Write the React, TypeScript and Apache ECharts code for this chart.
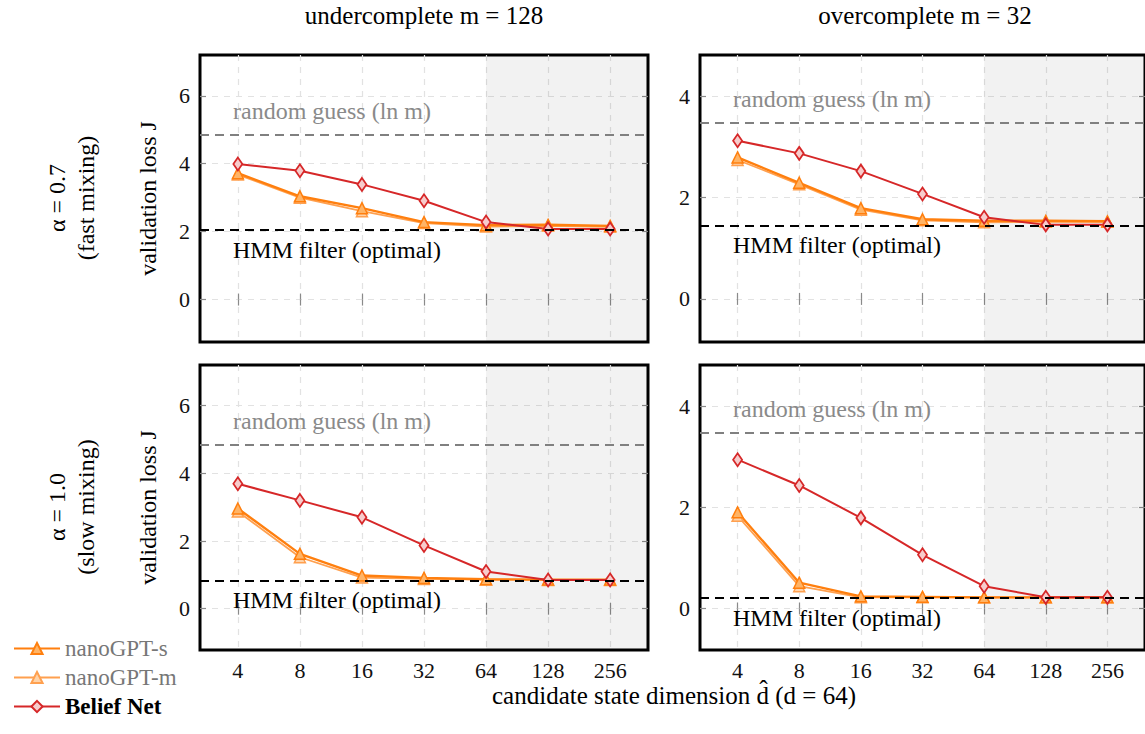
import React, { useEffect, useRef } from 'react';
import * as echarts from 'echarts';

// ---------- data ----------
const D_VALUES = [4, 8, 16, 32, 64, 128, 256];
const X_TICK_LABELS = ['4', '8', '16', '32', '64', '128', '256'];
const Y_TICKS_UNDER = [0, 2, 4, 6];
const Y_TICKS_OVER = [0, 2, 4];
const SHADE_FROM_D = 64;

// undercomplete m = 128, alpha = 0.7
const UF_NANO_S = [3.72, 3.04, 2.69, 2.28, 2.19, 2.2, 2.17];
const UF_NANO_M = [3.68, 3.0, 2.6, 2.25, 2.15, 2.17, 2.14];
const UF_BELIEF = [3.99, 3.79, 3.39, 2.91, 2.28, 2.08, 2.08];
// overcomplete m = 32, alpha = 0.7
const OF_NANO_S = [2.79, 2.29, 1.79, 1.57, 1.54, 1.54, 1.53];
const OF_NANO_M = [2.74, 2.26, 1.76, 1.55, 1.51, 1.52, 1.52];
const OF_BELIEF = [3.12, 2.87, 2.52, 2.07, 1.61, 1.46, 1.46];
// undercomplete m = 128, alpha = 1.0
const US_NANO_S = [2.96, 1.62, 0.98, 0.91, 0.87, 0.86, 0.86];
const US_NANO_M = [2.87, 1.52, 0.92, 0.88, 0.86, 0.85, 0.85];
const US_BELIEF = [3.69, 3.2, 2.7, 1.87, 1.1, 0.85, 0.85];
// overcomplete m = 32, alpha = 1.0
const OS_NANO_S = [1.9, 0.51, 0.24, 0.23, 0.22, 0.22, 0.22];
const OS_NANO_M = [1.83, 0.44, 0.22, 0.22, 0.22, 0.22, 0.22];
const OS_BELIEF = [2.94, 2.43, 1.79, 1.06, 0.44, 0.22, 0.22];

const HMM_OPTIMAL = [2.05, 1.45, 0.84, 0.21];
const RANDOM_GUESS = [4.852, 3.466, 4.852, 3.466]; // ln 128, ln 32

const COL_TITLES = ['undercomplete m = 128', 'overcomplete m = 32'];
const ROW_TITLES = ['α = 0.7\n(fast mixing)', 'α = 1.0\n(slow mixing)'];
const X_TITLE = 'candidate state dimension d̂ (d = 64)';
const Y_TITLE = 'validation loss J';

// ---------- styles ----------
const FONT = '"Liberation Serif", "Times New Roman", serif';
const FS = 24;
const TITLE_FS = 25;
const TICK_FS = 22;
const XMIN = 1.39;
const XMAX = 8.61;
const LX = D_VALUES.map((d) => Math.log2(d));

const C_S = '#ff7f0e';
const C_M = '#ffa04f';
const C_B = '#d62728';

function buildOption() {
  const layouts = [
    { left: 200, top: 55, width: 448, height: 287, ymin: -1.25, ymax: 7.2, yticks: Y_TICKS_UNDER, s: UF_NANO_S, m: UF_NANO_M, b: UF_BELIEF, showX: false, yName: true },
    { left: 700, top: 55, width: 450, height: 287, ymin: -0.85, ymax: 4.81, yticks: Y_TICKS_OVER, s: OF_NANO_S, m: OF_NANO_M, b: OF_BELIEF, showX: false, yName: false },
    { left: 200, top: 365, width: 448, height: 285, ymin: -1.22, ymax: 7.2, yticks: Y_TICKS_UNDER, s: US_NANO_S, m: US_NANO_M, b: US_BELIEF, showX: true, yName: true },
    { left: 700, top: 365, width: 450, height: 285, ymin: -0.82, ymax: 4.81, yticks: Y_TICKS_OVER, s: OS_NANO_S, m: OS_NANO_M, b: OS_BELIEF, showX: true, yName: false },
  ];

  const grid: any[] = [];
  const xAxis: any[] = [];
  const yAxis: any[] = [];
  const series: any[] = [];

  const tickStyle = { color: '#8a8a8a', width: 1.2 };
  const splitStyle = { color: '#e2e2e2', width: 1.2, type: [6, 6] };

  layouts.forEach((p, i) => {
    grid.push({
      left: p.left, top: p.top, width: p.width, height: p.height,
      show: true, borderColor: '#000', borderWidth: 3, backgroundColor: 'transparent',
    });
    xAxis.push({
      gridIndex: i, type: 'value', min: XMIN, max: XMAX, position: 'bottom',
      axisLine: { show: false },
      axisTick: { show: true, inside: true, length: 6, customValues: LX, lineStyle: tickStyle },
      axisLabel: {
        show: p.showX, customValues: LX, margin: 9,
        formatter: (v: number) => X_TICK_LABELS[LX.indexOf(v)] ?? '',
        fontFamily: FONT, fontSize: TICK_FS, color: '#111',
      },
      splitLine: { show: true, lineStyle: splitStyle },
    });
    xAxis.push({
      gridIndex: i, type: 'value', min: XMIN, max: XMAX, position: 'top',
      axisLine: { show: false },
      axisTick: { show: true, inside: true, length: 6, customValues: LX, lineStyle: tickStyle },
      axisLabel: { show: false },
      splitLine: { show: false },
    });
    yAxis.push({
      gridIndex: i, type: 'value', min: p.ymin, max: p.ymax, position: 'left',
      axisLine: { show: false },
      axisTick: { show: true, inside: true, length: 6, customValues: p.yticks, lineStyle: tickStyle },
      axisLabel: { show: true, customValues: p.yticks, margin: 10, fontFamily: FONT, fontSize: TICK_FS, color: '#111' },
      splitLine: { show: true, lineStyle: splitStyle },
      name: p.yName ? Y_TITLE : '',
      nameLocation: 'middle', nameGap: 40, nameRotate: 90,
      nameTextStyle: { fontFamily: FONT, fontSize: FS, color: '#000' },
    });
    yAxis.push({
      gridIndex: i, type: 'value', min: p.ymin, max: p.ymax, position: 'right',
      axisLine: { show: false },
      axisTick: { show: true, inside: true, length: 6, customValues: p.yticks, lineStyle: tickStyle },
      axisLabel: { show: false },
      splitLine: { show: false },
    });

    const toData = (vals: number[]) => D_VALUES.map((d, k) => [Math.log2(d), vals[k]]);

    series.push({
      name: 'nanoGPT-m', type: 'line', xAxisIndex: 2 * i, yAxisIndex: 2 * i,
      data: toData(p.m), symbol: 'triangle', symbolSize: 11,
      lineStyle: { color: C_M, width: 1.8 },
      itemStyle: { color: '#ffd3a8', borderColor: C_M, borderWidth: 1.5 },
      markArea: {
        silent: true,
        itemStyle: { color: 'rgba(0,0,0,0.05)' },
        data: [[{ xAxis: Math.log2(SHADE_FROM_D), yAxis: p.ymin }, { xAxis: XMAX, yAxis: p.ymax }]],
      },
    });
    series.push({
      name: 'nanoGPT-s', type: 'line', xAxisIndex: 2 * i, yAxisIndex: 2 * i,
      data: toData(p.s), symbol: 'triangle', symbolSize: 11,
      lineStyle: { color: C_S, width: 2.4 },
      itemStyle: { color: '#ffb466', borderColor: C_S, borderWidth: 1.5 },
    });
    series.push({
      name: 'Belief Net', type: 'line', xAxisIndex: 2 * i, yAxisIndex: 2 * i,
      data: toData(p.b), symbol: 'diamond', symbolSize: [9, 13],
      lineStyle: { color: C_B, width: 2 },
      itemStyle: { color: '#f7cccc', borderColor: C_B, borderWidth: 1.8 },
      markLine: {
        silent: true, symbol: ['none', 'none'],
        data: [
          {
            yAxis: RANDOM_GUESS[i],
            lineStyle: { color: '#808080', width: 2.2, type: [9, 6] },
            label: {
              show: true, position: 'insideStartTop', distance: [33, 12],
              formatter: 'random guess (ln m)',
              fontFamily: FONT, fontSize: FS, color: '#8a8a8a',
            },
          },
          {
            yAxis: HMM_OPTIMAL[i],
            lineStyle: { color: '#000', width: 2.2, type: [9, 6] },
            label: {
              show: true, position: 'insideStartBottom', distance: [33, 8],
              formatter: 'HMM filter (optimal)',
              fontFamily: FONT, fontSize: FS, color: '#000',
            },
          },
        ],
      },
    });
  });

  const rowLabel = (text: string, y: number) => ({
    type: 'text', x: 71, y, rotation: Math.PI / 2,
    style: {
      text, align: 'center', verticalAlign: 'middle',
      fontFamily: FONT, fontSize: FS, lineHeight: 29, fill: '#000',
    },
  });

  const titleText = (text: string, x: number) => ({
    type: 'text', x, y: 15,
    style: { text, align: 'center', verticalAlign: 'middle', fontFamily: FONT, fontSize: TITLE_FS, fill: '#000' },
  });

  return {
    animation: false,
    backgroundColor: '#fff',
    grid, xAxis, yAxis, series,
    legend: {
      orient: 'vertical', left: 8, top: 632,
      itemWidth: 46, itemHeight: 14, itemGap: 6,
      textStyle: { fontFamily: FONT, fontSize: FS - 1, color: '#777' },
      data: [
        { name: 'nanoGPT-s', textStyle: { color: '#777' } },
        { name: 'nanoGPT-m', textStyle: { color: '#777' } },
        { name: 'Belief Net', textStyle: { color: '#000', fontWeight: 'bold' } },
      ],
    },
    graphic: [
      titleText(COL_TITLES[0], 424),
      titleText(COL_TITLES[1], 925),
      rowLabel(ROW_TITLES[0], 198),
      rowLabel(ROW_TITLES[1], 507),
      {
        type: 'text', x: 674, y: 695,
        style: { text: X_TITLE, align: 'center', verticalAlign: 'middle', fontFamily: FONT, fontSize: TITLE_FS, fill: '#000' },
      },
    ],
  };
}

export default function App() {
  const ref = useRef<HTMLDivElement>(null);
  useEffect(() => {
    document.body.style.margin = '0';
    if (!ref.current) return;
    const chart = echarts.init(ref.current, undefined, { renderer: 'svg' });
    chart.setOption(buildOption() as any);
    return () => chart.dispose();
  }, []);
  return <div ref={ref} style={{ width: 1145, height: 734 }} />;
}
